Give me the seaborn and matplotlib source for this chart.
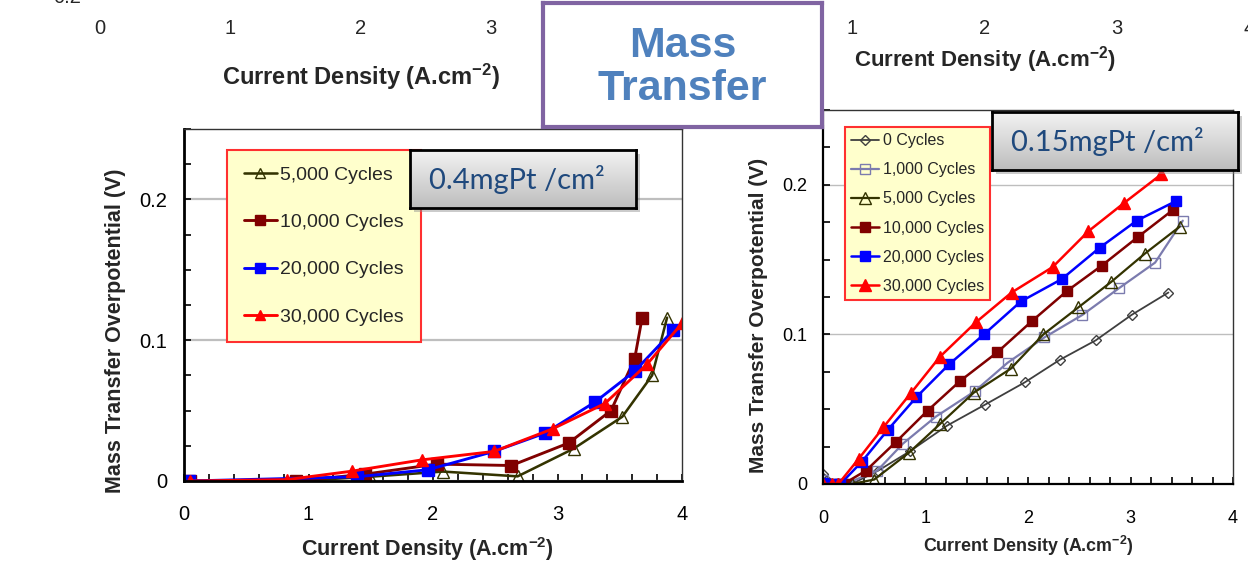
import numpy as np
import pandas as pd
import matplotlib
matplotlib.use("Agg")
import matplotlib.pyplot as plt
import seaborn as sns
from matplotlib.ticker import MultipleLocator, FuncFormatter
from matplotlib.colors import LinearSegmentedColormap

# ---------------- 0.4 mgPt/cm2 electrode ----------------
hi_x_5k = [0.05, 0.90, 1.49, 2.08, 2.68, 3.13, 3.52, 3.76, 3.88]
hi_y_5k = [0.0, 0.0, 0.003, 0.0067, 0.0033, 0.023, 0.0456, 0.075, 0.116]
hi_x_10k = [0.05, 0.90, 1.45, 2.03, 2.63, 3.09, 3.43, 3.62, 3.68]
hi_y_10k = [0.0, 0.0, 0.0048, 0.012, 0.011, 0.027, 0.050, 0.087, 0.116]
hi_x_20k = [0.04, 1.39, 1.96, 2.49, 2.90, 3.30, 3.62, 3.93]
hi_y_20k = [0.0, 0.003, 0.008, 0.021, 0.034, 0.056, 0.078, 0.107]
hi_x_30k = [0.05, 0.83, 1.35, 1.91, 2.49, 2.96, 3.38, 3.72, 4.0]
hi_y_30k = [0.0, 0.001, 0.007, 0.015, 0.021, 0.037, 0.055, 0.083, 0.112]

# ---------------- 0.15 mgPt/cm2 electrode ----------------
lo_x_0 = [0.0, 0.14, 0.28, 0.54, 0.85, 1.21, 1.58, 1.97, 2.31, 2.66, 3.01, 3.37]
lo_y_0 = [0.007, 0.0, 0.0, 0.009, 0.022, 0.039, 0.053, 0.068, 0.083, 0.096, 0.113, 0.128]
lo_x_1k = [0.0, 0.12, 0.22, 0.53, 0.78, 1.10, 1.48, 1.80, 2.16, 2.53, 2.89, 3.24, 3.51]
lo_y_1k = [0.003, 0.0, 0.0, 0.009, 0.027, 0.045, 0.062, 0.081, 0.098, 0.113, 0.131, 0.148, 0.176]
lo_x_5k = [0.0, 0.15, 0.28, 0.50, 0.84, 1.14, 1.47, 1.83, 2.15, 2.49, 2.81, 3.14, 3.48]
lo_y_5k = [0.001, 0.0, 0.0, 0.003, 0.021, 0.040, 0.061, 0.077, 0.100, 0.118, 0.135, 0.154, 0.172]
lo_x_10k = [0.0, 0.10, 0.20, 0.42, 0.71, 1.02, 1.34, 1.70, 2.04, 2.38, 2.72, 3.07, 3.41]
lo_y_10k = [0.0, 0.0, 0.0, 0.009, 0.028, 0.049, 0.069, 0.088, 0.109, 0.129, 0.146, 0.165, 0.183]
lo_x_20k = [0.0, 0.10, 0.17, 0.38, 0.63, 0.91, 1.23, 1.57, 1.93, 2.33, 2.70, 3.06, 3.44]
lo_y_20k = [0.001, 0.0, 0.0, 0.015, 0.036, 0.058, 0.080, 0.100, 0.122, 0.137, 0.158, 0.176, 0.189]
lo_x_30k = [0.0, 0.09, 0.15, 0.35, 0.59, 0.86, 1.14, 1.49, 1.84, 2.24, 2.59, 2.94, 3.30]
lo_y_30k = [0.0, 0.0, 0.0, 0.017, 0.038, 0.061, 0.085, 0.108, 0.128, 0.145, 0.169, 0.188, 0.207]

cycle_labels = ["0 Cycles", "1,000 Cycles", "5,000 Cycles",
                "10,000 Cycles", "20,000 Cycles", "30,000 Cycles"]
top_left_ticks = [0, 1, 2, 3]
top_right_ticks = [1, 2, 3, 4]

sns.set_theme(style="white")
plt.rcParams["font.family"] = ["Liberation Sans", "DejaVu Sans"]
plt.rcParams["mathtext.fontset"] = "custom"
plt.rcParams["mathtext.rm"] = "Liberation Sans"
plt.rcParams["mathtext.bf"] = "Liberation Sans:bold"
plt.rcParams["mathtext.it"] = "Liberation Sans:italic"

W, H = 1248, 562
fig = plt.figure(figsize=(W / 100, H / 100), dpi=100)
fig.patch.set_facecolor("white")


def box(l, t, r, b):
    """Pixel box (left, top, right, bottom) -> figure fraction rect."""
    return [l / W, (H - b) / H, (r - l) / W, (b - t) / H]


XLABEL = r"Current Density (A.cm$^{\mathbf{-2}}$)"
YLABEL = "Mass Transfer Overpotential (V)"

# series styles: colour, marker, face, line width
STYLE = {
    "0 Cycles": ("#3F3F3F", "D", "none", 1.3),
    "1,000 Cycles": ("#7B7BAE", "s", "none", 1.6),
    "5,000 Cycles": ("#333300", "^", "none", 1.6),
    "10,000 Cycles": ("#800000", "s", "#800000", 1.8),
    "20,000 Cycles": ("#0000FF", "s", "#0000FF", 1.8),
    "30,000 Cycles": ("#FF0000", "^", "#FF0000", 1.8),
}


def draw(ax, xs, ys, label, ms, lw_scale=1.0):
    color, marker, mfc, lw = STYLE[label]
    if marker == "D":
        ms = ms * 0.72
    d = pd.DataFrame({"x": xs, "y": ys})
    sns.lineplot(data=d, x="x", y="y", ax=ax, sort=False, estimator=None,
                 color=color, lw=lw * lw_scale, marker=marker, markersize=ms,
                 markerfacecolor=mfc, markeredgecolor=color,
                 markeredgewidth=1.0, label=label)


def style_axes(ax, tick_fs, xpad, ypad, grid_lw, thick):
    ax.set_xlim(0, 4)
    ax.set_ylim(0, 0.25)
    ax.xaxis.set_major_locator(MultipleLocator(1))
    ax.xaxis.set_minor_locator(MultipleLocator(0.2))
    ax.yaxis.set_major_locator(MultipleLocator(0.1))
    ax.yaxis.set_minor_locator(MultipleLocator(0.025))
    ax.yaxis.set_major_formatter(FuncFormatter(lambda v, p: f"{v:g}"))
    ax.tick_params(which="both", direction="in", length=5, width=1.2,
                   colors="black", bottom=True, left=True, top=False, right=False)
    ax.tick_params(axis="x", which="major", labelsize=tick_fs, pad=xpad)
    ax.tick_params(axis="y", which="major", labelsize=tick_fs, pad=ypad)
    ax.grid(False)
    ax.yaxis.grid(True, which="major", color="#BEBEBE", lw=grid_lw)
    for s in ("left", "bottom"):
        ax.spines[s].set_color("black")
        ax.spines[s].set_linewidth(thick)
    for s in ("top", "right"):
        ax.spines[s].set_color("#333333")
        ax.spines[s].set_linewidth(1.0)
    ax.set_axisbelow(True)


# ---------------- left panel: 0.4 mgPt ----------------
axL = fig.add_axes(box(184, 129, 682, 481))
draw(axL, hi_x_5k, hi_y_5k, "5,000 Cycles", 8.5, 1.15)
draw(axL, hi_x_10k, hi_y_10k, "10,000 Cycles", 8.5, 1.15)
draw(axL, hi_x_20k, hi_y_20k, "20,000 Cycles", 8.5, 1.15)
draw(axL, hi_x_30k, hi_y_30k, "30,000 Cycles", 8.5, 1.15)
style_axes(axL, 14.5, 17, 12, 1.6, 2.0)
axL.set_xlabel(XLABEL, fontsize=15.5, fontweight="bold")
axL.set_ylabel(YLABEL, fontsize=15.5, fontweight="bold")
axL.xaxis.set_label_coords((427 - 184) / 498, (481 - 535) / 352)
axL.yaxis.set_label_coords((126 - 184) / 498, (481 - 331) / 352)
legL = axL.legend(loc="upper left", bbox_to_anchor=(227 / W, 1 - 150 / H),
                  bbox_transform=fig.transFigure, borderaxespad=0,
                  frameon=True, fancybox=False, facecolor="#FFFFCC",
                  edgecolor="#FF3030", framealpha=1, fontsize=14,
                  labelspacing=1.52, borderpad=0.85, handlelength=1.7,
                  handletextpad=0.2, markerscale=0.85)
legL.get_frame().set_linewidth(1.5)

# ---------------- right panel: 0.15 mgPt ----------------
axR = fig.add_axes(box(823, 110, 1233, 484))
draw(axR, lo_x_0, lo_y_0, "0 Cycles", 7.5)
draw(axR, lo_x_1k, lo_y_1k, "1,000 Cycles", 7.5)
draw(axR, lo_x_5k, lo_y_5k, "5,000 Cycles", 8)
draw(axR, lo_x_10k, lo_y_10k, "10,000 Cycles", 7.5)
draw(axR, lo_x_20k, lo_y_20k, "20,000 Cycles", 7.5)
draw(axR, lo_x_30k, lo_y_30k, "30,000 Cycles", 8)
style_axes(axR, 13, 19, 11, 1.0, 1.6)
axR.set_xlabel(XLABEL, fontsize=12.9, fontweight="bold")
axR.set_ylabel(YLABEL, fontsize=15, fontweight="bold")
axR.xaxis.set_label_coords((1028 - 823) / 410, (484 - 534) / 374)
axR.yaxis.set_label_coords((768 - 823) / 410, (484 - 315) / 374)
legR = axR.legend(loc="upper left", bbox_to_anchor=(845 / W, 1 - 127 / H),
                  bbox_transform=fig.transFigure, borderaxespad=0,
                  frameon=True, fancybox=False, facecolor="#FFFFCC",
                  edgecolor="#FF3030", framealpha=1, fontsize=11.5,
                  labelspacing=0.88, borderpad=0.4, handlelength=1.7,
                  handletextpad=0.25)
legR.get_frame().set_linewidth(1.5)

# ---------------- axes of the panels above (cut off by the page) ----------------
for (l, r, ticks, lab_fs, lab_pad) in ((100, 621, top_left_ticks, 17, 17),
                                       (719.5, 1249.5, top_right_ticks, 16, 4)):
    axT = fig.add_axes(box(l, -300, r, 13))
    axT.patch.set_visible(False)
    for s in axT.spines.values():
        s.set_visible(False)
    axT.set_xlim(0, 4)
    axT.set_xticks(ticks)
    axT.set_xticklabels([str(t) for t in ticks])
    axT.set_yticks([])
    axT.tick_params(axis="x", length=0, labelsize=14.5, pad=4.5)
    axT.set_xlabel(XLABEL, fontsize=lab_fs, fontweight="bold", labelpad=lab_pad)
fig.text(67 / W, 1 - 3 / H, "0.2", fontsize=14.5, ha="center", va="baseline")

# ---------------- loading labels ----------------
grad = LinearSegmentedColormap.from_list("boxfill", ["#F3F3F3", "#BDBDBD"])


def loading_box(l, t, r, b, text, fs):
    sh = fig.add_axes(box(l + 4, t + 4, r + 4, b + 4))
    sh.set_facecolor("#8C8C8C")
    sh.patch.set_alpha(0.45)
    sh.set_xticks([]); sh.set_yticks([])
    for s in sh.spines.values():
        s.set_visible(False)
    bx = fig.add_axes(box(l, t, r, b))
    bx.imshow(np.linspace(0, 1, 64).reshape(-1, 1), aspect="auto", cmap=grad,
              extent=[0, 1, 0, 1], origin="upper")
    bx.set_xlim(0, 1); bx.set_ylim(0, 1)
    bx.set_xticks([]); bx.set_yticks([])
    for s in bx.spines.values():
        s.set_color("black")
        s.set_linewidth(2)
    bx.text(19 / (r - l), 0.5, text, transform=bx.transAxes, ha="left",
            va="center", fontsize=fs, color="#1F497D",
            family=["Lato", "DejaVu Sans"])


loading_box(410, 150, 636, 208, "0.4mgPt /cm²", 21)
loading_box(992, 112, 1238, 170, "0.15mgPt /cm²", 21)

# ---------------- section title ----------------
mt = fig.add_axes(box(543, 3, 822, 127))
mt.set_facecolor("white")
mt.set_xticks([]); mt.set_yticks([])
for s in mt.spines.values():
    s.set_color("#8064A2")
    s.set_linewidth(3)
mt.text(0.5, 0.48, "Mass\nTransfer", transform=mt.transAxes, ha="center",
        va="center", fontsize=31, fontweight="bold", color="#4F81BD",
        linespacing=1.1)

fig.savefig("out.png", dpi=100, facecolor="white")
